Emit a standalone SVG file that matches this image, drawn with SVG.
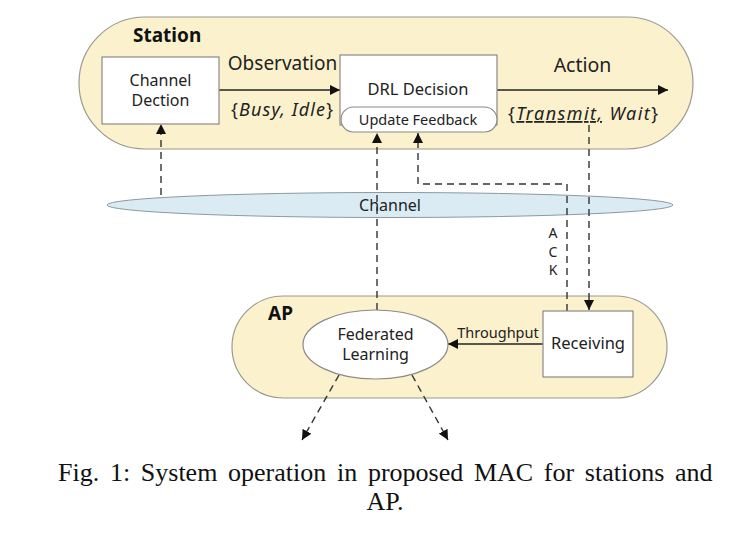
<svg xmlns="http://www.w3.org/2000/svg" width="735" height="540" viewBox="0 0 735 540">
<defs>
<marker id="ah" viewBox="0 0 10 10" refX="10" refY="5" markerWidth="10" markerHeight="10" markerUnits="userSpaceOnUse" orient="auto">
<path d="M0,0 L10,5 L0,10 Z" fill="#111"/>
</marker>
</defs>
<style>
.zone{fill:#FCF1CD;stroke:#9a9a90;stroke-width:1.2}
.box{fill:#fff;stroke:#8a8a8a;stroke-width:1.2}
.t{font-family:"Noto Sans","Open Sans",sans-serif;fill:#222;text-anchor:middle}
.b{font-family:"Noto Sans","Open Sans",sans-serif;font-weight:bold;fill:#111}
.solid{fill:none;stroke:#222;stroke-width:1.4}
.dash{fill:none;stroke:#333;stroke-width:1.4;stroke-dasharray:7 5}
.cap{font-family:"Liberation Serif","Times New Roman",serif;font-size:26px;fill:#111}
</style>
<rect width="735" height="540" fill="#fff"/>

<g id="station">
<rect class="zone" x="79" y="17" width="614" height="132" rx="66"/>
<text class="b" x="133" y="42" font-size="19">Station</text>
</g>

<g id="ap">
<rect class="zone" x="232" y="296" width="435" height="102" rx="51"/>
<text class="b" x="268" y="320" font-size="19">AP</text>
</g>

<g id="channel">
<ellipse cx="390" cy="205" rx="283" ry="12.5" fill="#DAEBF3" stroke="#8c9aa0" stroke-width="1"/>
<text class="t" x="390" y="211" font-size="16">Channel</text>
</g>

<g id="connectors">
<line class="solid" x1="219" y1="90" x2="340" y2="90" marker-end="url(#ah)"/>
<line class="solid" x1="497" y1="90" x2="668" y2="90" marker-end="url(#ah)"/>
<line class="solid" x1="543" y1="344" x2="448" y2="344" marker-end="url(#ah)"/>
<line class="dash" x1="161" y1="195" x2="161" y2="124" marker-end="url(#ah)"/>
<line class="dash" x1="377" y1="310" x2="377" y2="133" marker-end="url(#ah)"/>
<polyline class="dash" points="567,311 567,184 418,184 418,133" marker-end="url(#ah)"/>
<line class="dash" x1="589" y1="125" x2="589" y2="310" marker-end="url(#ah)"/>
<line class="dash" x1="339" y1="375" x2="302" y2="440" marker-end="url(#ah)"/>
<line class="dash" x1="412" y1="375" x2="448" y2="440" marker-end="url(#ah)"/>
</g>

<g id="channel-dection">
<rect class="box" x="102" y="57" width="117" height="67"/>
<text class="t" x="160.5" y="86" font-size="16">Channel</text>
<text class="t" x="160.5" y="106" font-size="16">Dection</text>
</g>

<g id="drl-decision">
<rect class="box" x="340" y="55" width="157" height="70"/>
<text class="t" x="418" y="95" font-size="16.5">DRL Decision</text>
</g>

<g id="update-feedback">
<rect class="box" x="341" y="107" width="156" height="25" rx="12.5"/>
<text class="t" x="418" y="125" font-size="14.5">Update Feedback</text>
</g>

<g id="receiving">
<rect class="box" x="543" y="311" width="90" height="66"/>
<text class="t" x="588" y="349" font-size="16.5">Receiving</text>
</g>

<g id="federated-learning">
<ellipse cx="375.5" cy="344.5" rx="72.5" ry="34.5" fill="#fff" stroke="#8a8a8a" stroke-width="1.2"/>
<text class="t" x="375.5" y="340" font-size="16">Federated</text>
<text class="t" x="375.5" y="360" font-size="16">Learning</text>
</g>

<g id="labels">
<text class="t" x="282.5" y="70" font-size="19">Observation</text>
<text class="t" x="282" y="116" font-size="18" textLength="102" lengthAdjust="spacing">{<tspan font-style="italic">Busy, Idle</tspan>}</text>
<text class="t" x="582.5" y="72" font-size="19.5">Action</text>
<text class="t" x="583" y="120" font-size="18" textLength="150" lengthAdjust="spacing">{<tspan font-style="italic" text-decoration="underline">Transmit,</tspan><tspan font-style="italic"> Wait</tspan>}</text>
<text class="t" x="498" y="338" font-size="14.5">Throughput</text>
<text class="t" x="553" y="238" font-size="14">A</text>
<text class="t" x="553" y="257" font-size="14">C</text>
<text class="t" x="553" y="275" font-size="14">K</text>
</g>

<g id="caption">
<text class="cap" x="58" y="481" word-spacing="4.2">Fig. 1: System operation in proposed MAC for stations and</text>
<text class="cap" x="385" y="510" text-anchor="middle">AP.</text>
</g>
</svg>
